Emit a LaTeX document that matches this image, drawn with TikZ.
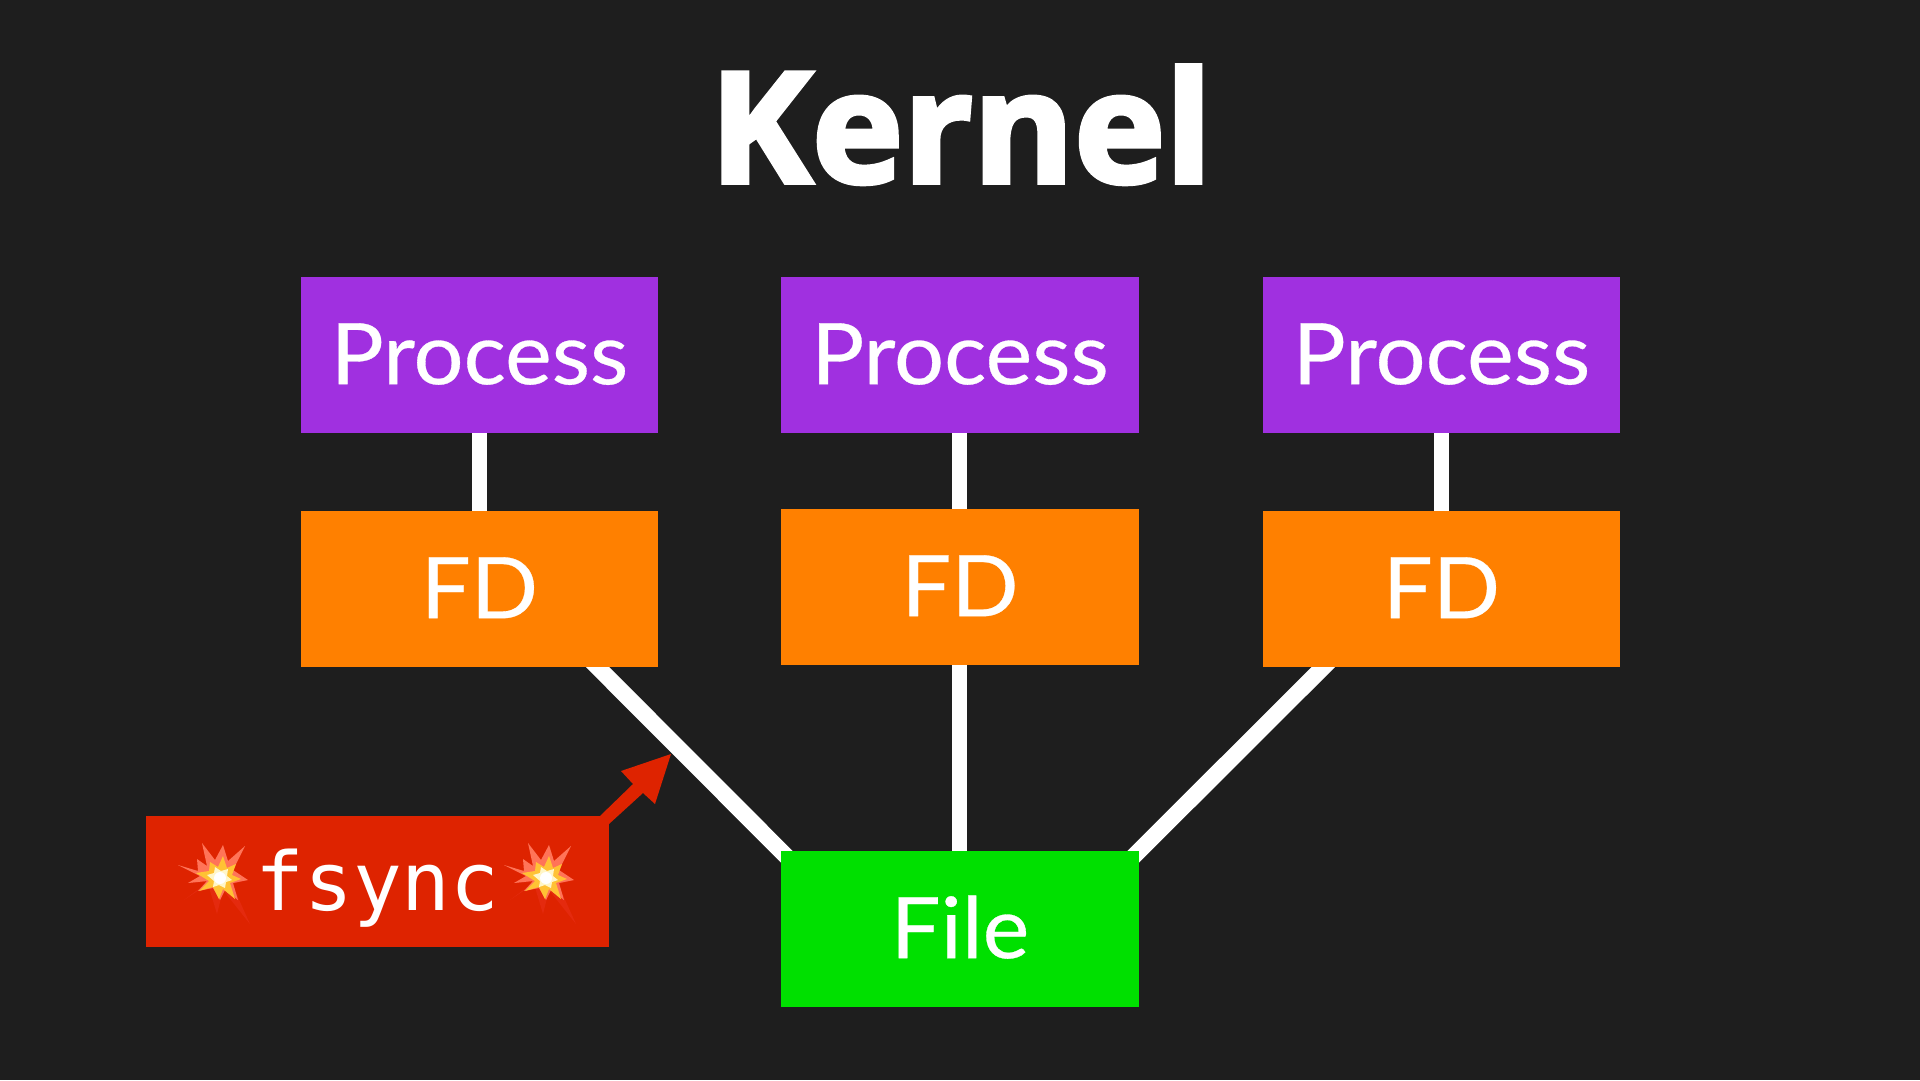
\documentclass[tikz,border=0pt]{standalone}
\usepackage{fontspec}
\usetikzlibrary{calc}
\setmainfont{Lato}[FakeBold=0.35,FakeStretch=1.04]
\newfontfamily\titlefont{Open Sans}[UprightFont=* Bold,FakeStretch=1.0,FakeBold=3]
\newfontfamily\fsfont{DejaVu Sans Mono}
\definecolor{bgc}{HTML}{1E1E1E}
\definecolor{purp}{HTML}{A030E0}
\definecolor{oran}{HTML}{FF8000}
\definecolor{gren}{HTML}{00E000}
\definecolor{redb}{HTML}{DE2300}
\definecolor{boomdim}{HTML}{E42A0E}
\definecolor{boomout}{HTML}{FF7458}
\definecolor{boommid}{HTML}{FFC234}
\definecolor{boomin}{HTML}{FFF6C8}
\pgfdeclarelayer{bgl}
\pgfdeclarelayer{wires}
\pgfsetlayers{bgl,wires,main}
\tikzset{
  box/.style={draw=none,fill=#1,text=white,minimum width=357.5pt,minimum height=156pt,inner sep=0pt,text height=58pt,text depth=0pt,font=\fontsize{85}{90}\selectfont,anchor=north west},
  wire/.style={draw=white,line width=15pt},
  diagwire/.style={draw=white,line width=16.5pt},
}
\newcommand{\boomat}[2]{%
\begin{scope}[shift={(#1,#2)}]
\fill[boomdim] (-36,22)--(-12,6)--(-3,36)--(3,12)--(30,46)--(12,6)--(28,2)--(0,-8)--(-32,5)--(-12,4)--cycle;
\fill[boomout] (-42,-13)--(-22,-7)--(-23,-19)--(-13,-12)--(-18,-35)--(-5,-18)--(3,-33)--(8,-17)--(25,-32)--(13,-8)--(28,2)--(13,5)--(18,22)--(5,12)--(0,22)--(-7,10)--(-22,13)--(-13,3)--(-32,5)--(-20,-2)--cycle;
\fill[boommid] (-24,-5)--(-11,-7)--(-10,-16)--(-2,-11)--(3,-22)--(7,-10)--(16,-14)--(12,-3)--(21,1)--(10,5)--(15,21)--(3,11)--(-1,21)--(-7,9)--(-21,13)--(-11,3)--cycle;
\fill[boomin] (-13,-3)--(-6,-5)--(-5,-11)--(1,-7)--(8,-9)--(7,-2)--(12,2)--(6,4)--(5,10)--(-1,7)--(-7,9)--(-6,3)--cycle;
\fill[white] (0,0) circle (6);
\end{scope}}
\begin{document}
\begin{tikzpicture}[x=1pt,y=-1pt]
\begin{pgfonlayer}{bgl}
\fill[bgc] (0,0) rectangle (1920,1080);
\end{pgfonlayer}
\useasboundingbox (0,0) rectangle (1920,1080);
\node[text=white,font=\titlefont\fontsize{154}{170}\selectfont,anchor=base,inner sep=0pt] (title) at (961,182.5) {Kernel};
\node[box=purp] (p1) at (300.5,277) {Process};
\node[box=purp] (p2) at (781,277) {Process};
\node[box=purp] (p3) at (1262.5,277) {Process};
\node[box=oran] (o1) at (300.5,511) {FD};
\node[box=oran] (o2) at (781,509) {FD};
\node[box=oran] (o3) at (1262.5,511) {FD};
\node[box=gren] (file) at (781,851) {File};
\begin{pgfonlayer}{wires}
\draw[wire] (p1.south) -- (o1.north);
\draw[wire] (p2.south) -- (o2.north);
\draw[wire] (p3.south) -- (o3.north);
\draw[wire] (o2.south) -- (file.north);
\draw[diagwire] ($(o1.south east)+(-80.5,-20)$) -- ($(file.north west)+(20,20)$);
\draw[diagwire] ($(o3.south west)+(80.5,-20)$) -- ($(file.north east)+(-20,20)$);
\end{pgfonlayer}
\fill[redb] (600,816) -- (633,784) -- (621,771) -- (671,754) -- (655,804) -- (643,793) -- (609,824) -- cycle;
\node[fill=redb,text=white,font=\fsfont\fontsize{81}{90}\selectfont,anchor=north west,minimum width=463.5pt,minimum height=131pt,inner sep=0pt,text height=58pt,text depth=0pt] (fs) at (145.5,815.5) {fsync};
\boomat{220}{878}
\boomat{546}{878}
\end{tikzpicture}
\end{document}
